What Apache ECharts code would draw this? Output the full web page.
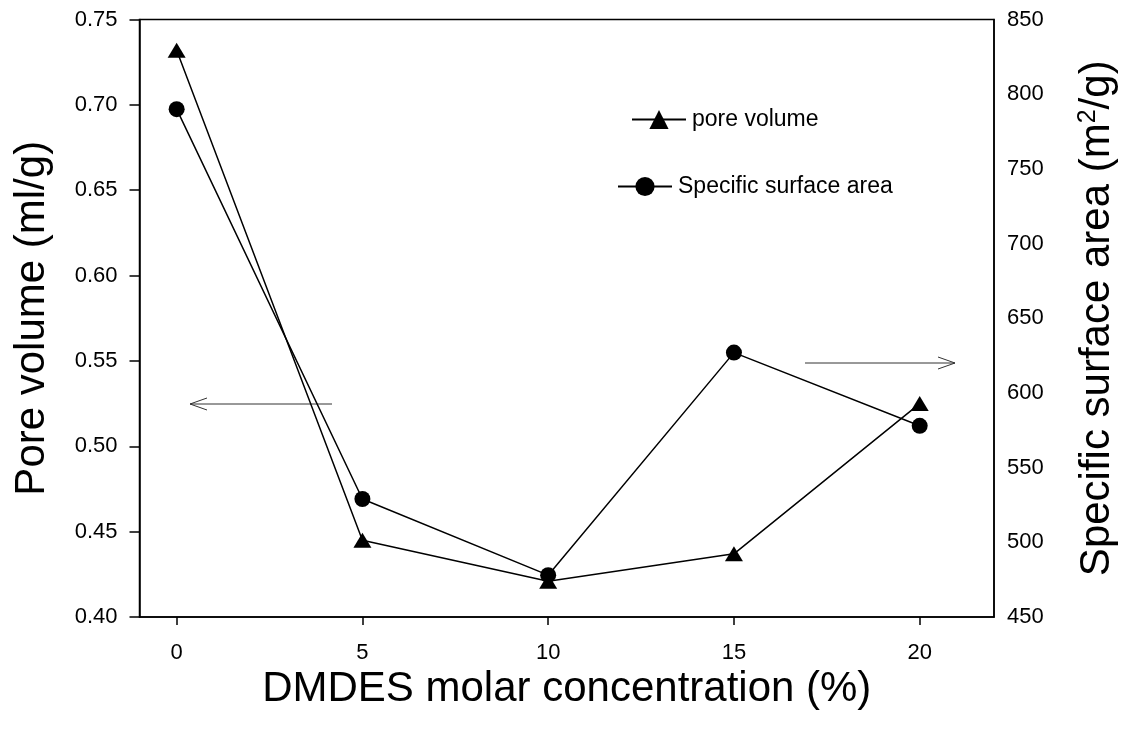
<!DOCTYPE html>
<html>
<head>
<meta charset="utf-8">
<script src="https://cdn.jsdelivr.net/npm/echarts@6/dist/echarts.min.js"></script>
<style>html,body{margin:0;padding:0;background:#fff}#c{width:1128px;height:734px}</style>
</head>
<body>
<div id="c"></div>
<script>
const concentrations = [0, 5, 10, 15, 20];
const poreVolume = [0.732, 0.445, 0.421, 0.437, 0.525];
const surfaceArea = [790, 529, 478, 627, 578];
const xTicks = [0, 5, 10, 15, 20];
const leftTicks = [0.40, 0.45, 0.50, 0.55, 0.60, 0.65, 0.70, 0.75];
const rightTicks = [450, 500, 550, 600, 650, 700, 750, 800, 850];

const FONT = 'Liberation Sans, Arial, sans-serif';
const chart = echarts.init(document.getElementById('c'), null, {renderer: 'canvas'});
const pair = (xs, ys) => xs.map((x, i) => [x, ys[i]]);

chart.setOption({
  animation: false,
  backgroundColor: '#fff',
  textStyle: {fontFamily: FONT, color: '#000'},
  grid: {left: 139.5, right: 134, top: 19.5, bottom: 117, show: true, borderColor: '#000', borderWidth: 1.5, backgroundColor: 'transparent'},
  legend: [
    {data: ['pore volume'], left: 626, top: 103, itemWidth: 54, itemHeight: 24, itemGap: 10,
     textStyle: {fontSize: 23, fontFamily: FONT, color: '#000', padding: [0, 0, 0, 1]}},
    {data: ['Specific surface area'], left: 612, top: 170, itemWidth: 54, itemHeight: 24, itemGap: 10,
     textStyle: {fontSize: 23, fontFamily: FONT, color: '#000', padding: [0, 0, 0, 1]}}
  ],
  xAxis: {
    type: 'value', min: -1, max: 22,
    name: 'DMDES molar concentration (%)', nameLocation: 'middle', nameGap: 44,
    nameTextStyle: {fontSize: 42, fontFamily: FONT, color: '#000'},
    axisLine: {show: true, onZero: false, lineStyle: {color: '#000', width: 1.5}},
    axisTick: {show: true, length: 8, lineStyle: {color: '#000', width: 1.5}, customValues: xTicks},
    axisLabel: {fontSize: 22, color: '#000', fontFamily: FONT, margin: 25, customValues: xTicks},
    splitLine: {show: false}
  },
  yAxis: [
    {
      type: 'value', min: 0.40, max: 0.75, interval: 0.05, position: 'left',
      name: 'Pore volume (ml/g)', nameLocation: 'middle', nameGap: 86, nameRotate: 90,
      nameTextStyle: {fontSize: 42, fontFamily: FONT, color: '#000'},
      axisLine: {show: true, onZero: false, lineStyle: {color: '#000', width: 1.5}},
      axisTick: {show: true, length: 10, lineStyle: {color: '#000', width: 1.5}},
      axisLabel: {fontSize: 22, color: '#000', fontFamily: FONT, margin: 22,
        formatter: v => v.toFixed(2), customValues: leftTicks},
      splitLine: {show: false}
    },
    {
      type: 'value', min: 450, max: 850, interval: 50, position: 'right',
      name: '{t|Specific surface area (m}{s|2}{t|/g)}', nameLocation: 'middle', nameGap: 82, nameRotate: 90,
      nameTextStyle: {fontSize: 42, fontFamily: FONT, color: '#000',
        rich: {t: {fontSize: 42, fontFamily: FONT, color: '#000'},
               s: {fontSize: 25, fontFamily: FONT, color: '#000', verticalAlign: 'top', padding: [0, 0, 18, 0]}}},
      axisLine: {show: true, onZero: false, lineStyle: {color: '#000', width: 1.5}},
      axisTick: {show: false},
      axisLabel: {fontSize: 22, color: '#000', fontFamily: FONT, margin: 13, customValues: rightTicks},
      splitLine: {show: false}
    }
  ],
  series: [
    {
      name: 'pore volume', type: 'line', yAxisIndex: 0,
      data: pair(concentrations, poreVolume),
      symbol: 'triangle', symbolSize: [18, 15],
      itemStyle: {color: '#000'}, lineStyle: {color: '#000', width: 1.5}
    },
    {
      name: 'Specific surface area', type: 'line', yAxisIndex: 1,
      data: pair(concentrations, surfaceArea),
      symbol: 'circle', symbolSize: 16,
      itemStyle: {color: '#000'}, lineStyle: {color: '#000', width: 1.5}
    }
  ],
  graphic: [
    {type: 'line', shape: {x1: 332, y1: 404, x2: 190, y2: 404}, style: {stroke: '#333', lineWidth: 1}},
    {type: 'polyline', shape: {points: [[207, 398], [190, 404], [207, 410]]}, style: {stroke: '#333', lineWidth: 1, fill: null}},
    {type: 'line', shape: {x1: 805, y1: 363, x2: 955, y2: 363}, style: {stroke: '#333', lineWidth: 1}},
    {type: 'polyline', shape: {points: [[938, 357], [955, 363], [938, 369]]}, style: {stroke: '#333', lineWidth: 1, fill: null}}
  ]
});
</script>
</body>
</html>
